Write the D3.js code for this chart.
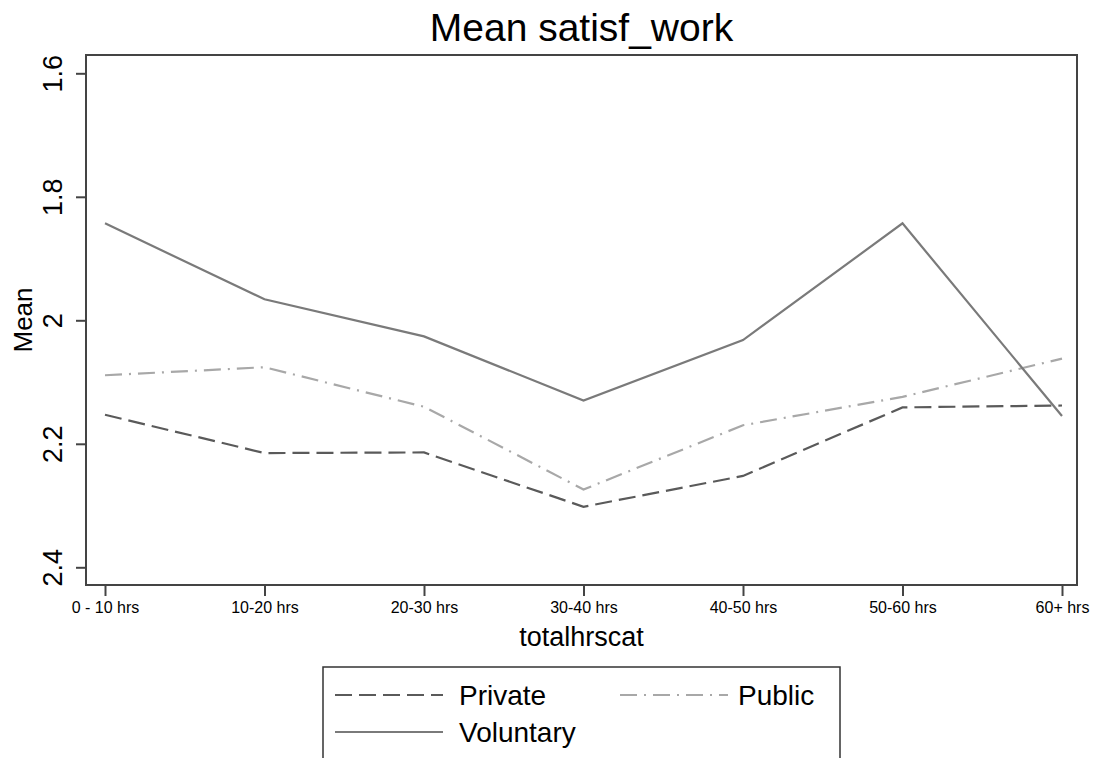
<!DOCTYPE html>
<html><head><meta charset="utf-8">
<script src="https://cdn.jsdelivr.net/npm/d3@7"></script>
<style>body{margin:0;background:#fff}svg text{font-family:"Liberation Sans",Arial,sans-serif;fill:#000}</style>
</head><body>
<svg id="c" width="1099" height="758"></svg>
<script>
const categories = ["0 - 10 hrs","10-20 hrs","20-30 hrs","30-40 hrs","40-50 hrs","50-60 hrs","60+ hrs"];
const privateVals   = [2.153, 2.215, 2.214, 2.302, 2.252, 2.141, 2.138];
const publicVals    = [2.089, 2.076, 2.140, 2.274, 2.170, 2.124, 2.062];
const voluntaryVals = [1.843, 1.966, 2.026, 2.130, 2.032, 1.843, 2.155];
const yTicks = [1.6, 1.8, 2, 2.2, 2.4];
const seriesNames = ["Private","Public","Voluntary"];

const svg = d3.select("#c");
const L = 86, R = 1077, T = 55, B = 585;
const x = d3.scalePoint().domain(categories).range([105, 1062]);
const y = d3.scaleLinear().domain([1.6, 2.4]).range([73.3, 567.3]);

// frame
svg.append("rect").attr("x", L).attr("y", T).attr("width", R - L).attr("height", B - T)
  .attr("fill", "none").attr("stroke", "#444").attr("stroke-width", 2);

// y axis
const yAxis = svg.append("g").attr("transform", `translate(${L},0)`)
  .call(d3.axisLeft(y).tickValues(yTicks).tickSize(10).tickFormat(d3.format("")));
yAxis.select(".domain").remove();
yAxis.selectAll(".tick line").attr("stroke", "#444").attr("stroke-width", 2);
yAxis.selectAll(".tick text").remove();
yAxis.selectAll(".tick").append("text")
  .attr("transform", "translate(-24,0) rotate(-90)")
  .attr("text-anchor", "middle").attr("font-size", 27).attr("fill", "#000")
  .text(d => d3.format("")(d));

// x axis
const xAxis = svg.append("g").attr("transform", `translate(0,${B})`)
  .call(d3.axisBottom(x).tickSize(11).tickPadding(6));
xAxis.select(".domain").remove();
xAxis.selectAll(".tick line").attr("stroke", "#444").attr("stroke-width", 2);
xAxis.selectAll(".tick text").attr("font-size", 16).attr("fill", "#000")
  .attr("font-family", "'Liberation Sans',Arial,sans-serif");

// titles
svg.append("text").attr("x", (L + R) / 2).attr("y", 41).attr("text-anchor", "middle")
  .attr("font-size", 39).text("Mean satisf_work");
svg.append("text").attr("x", (L + R) / 2).attr("y", 646).attr("text-anchor", "middle")
  .attr("font-size", 27).text("totalhrscat");
svg.append("text").attr("transform", "translate(32,320) rotate(-90)").attr("text-anchor", "middle")
  .attr("font-size", 26).text("Mean");

const styles = {
  Private:   {color: "#5a5a5a", dash: "17,7"},
  Public:    {color: "#a8a8a8", dash: "17,7,2,7"},
  Voluntary: {color: "#7a7a7a", dash: null}
};
const data = {Private: privateVals, Public: publicVals, Voluntary: voluntaryVals};
const line = d3.line().x((d, i) => x(categories[i])).y(d => y(d));
seriesNames.forEach(n => {
  svg.append("path").datum(data[n]).attr("d", line).attr("fill", "none")
    .attr("stroke", styles[n].color).attr("stroke-width", 2.2)
    .attr("stroke-dasharray", styles[n].dash);
});

// legend
const lg = svg.append("g");
lg.append("rect").attr("x", 323).attr("y", 667).attr("width", 517).attr("height", 100)
  .attr("fill", "#fff").attr("stroke", "#333").attr("stroke-width", 1.5);
const legItems = [
  {n: "Private", x1: 335, x2: 443, tx: 459, ly: 695},
  {n: "Public", x1: 620, x2: 728, tx: 738, ly: 695},
  {n: "Voluntary", x1: 335, x2: 443, tx: 459, ly: 732}
];
legItems.forEach(it => {
  lg.append("line").attr("x1", it.x1).attr("x2", it.x2).attr("y1", it.ly).attr("y2", it.ly)
    .attr("stroke", styles[it.n].color).attr("stroke-width", 2.2)
    .attr("stroke-dasharray", styles[it.n].dash);
  lg.append("text").attr("x", it.tx).attr("y", it.ly + 10).attr("font-size", 28).text(it.n);
});
</script>
</body></html>
